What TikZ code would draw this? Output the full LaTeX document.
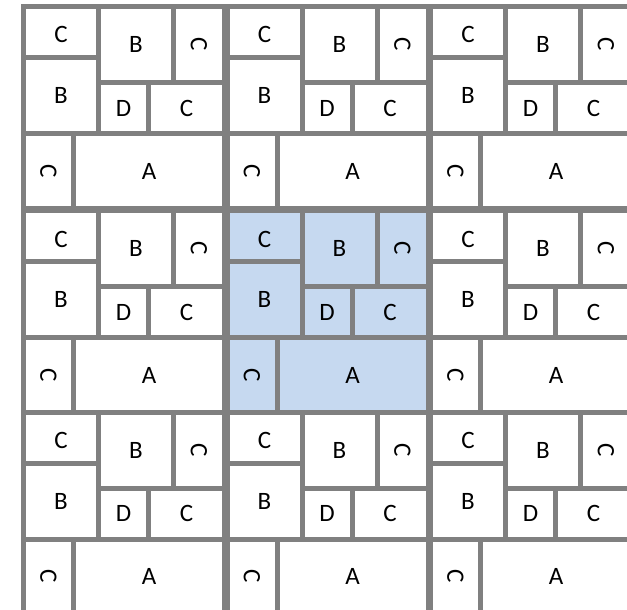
\documentclass[tikz,border=0pt]{standalone}
\usepackage{fontspec}
\setmainfont{Carlito}
\definecolor{framegray}{RGB}{128,128,128}
\definecolor{hilite}{RGB}{198,217,240}

\begin{document}
\begin{tikzpicture}[
  x=1pt, y=-1pt,
  font=\fontsize{25}{30}\selectfont,
  cellfill/.style={fill=white},
  cell/.style={draw=framegray, line width=5pt, cellfill, inner sep=0pt},
  tile/.pic={
    \node[cell, minimum width=75pt, minimum height=51pt, text height=22pt, text depth=0pt] (-ctop) at (37.5,25.5) {C};
    \node[cell, minimum width=75pt, minimum height=76pt] (-btop)  at (112.5,38)   {B};
    \node[cell, minimum width=51pt, minimum height=76pt] (-rtop)  at (175.5,38)   {\rotatebox{-90}{C}};
    \node[cell, minimum width=75pt, minimum height=76pt] (-bleft) at (37.5,89)    {B};
    \node[cell, minimum width=50pt, minimum height=51pt] (-d)     at (100,101.5)  {D};
    \node[cell, minimum width=76pt, minimum height=51pt] (-cmid)  at (163,101.5)  {C};
    \node[cell, minimum width=50pt, minimum height=75pt] (-rlow)  at (25,164.5)   {\rotatebox{-90}{C}};
    \node[cell, minimum width=151pt, minimum height=75pt] (-a)    at (125.5,164.5) {A};
  },
]
\useasboundingbox (0,0) rectangle (627,610);
\clip (0,0) rectangle (627,610);
\pic (t11) at (23.5,6.5)  {tile};
\pic (t12) at (227,6.5)   {tile};
\pic (t13) at (430.5,6.5) {tile};
\pic (t21) at (23.5,210.5)  {tile};
\pic[cellfill/.style={fill=hilite}] (t22) at (227,210.5) {tile};
\pic (t23) at (430.5,210.5) {tile};
\pic (t31) at (23.5,412)  {tile};
\pic (t32) at (227,412)   {tile};
\pic (t33) at (430.5,412) {tile};
\end{tikzpicture}
\end{document}
